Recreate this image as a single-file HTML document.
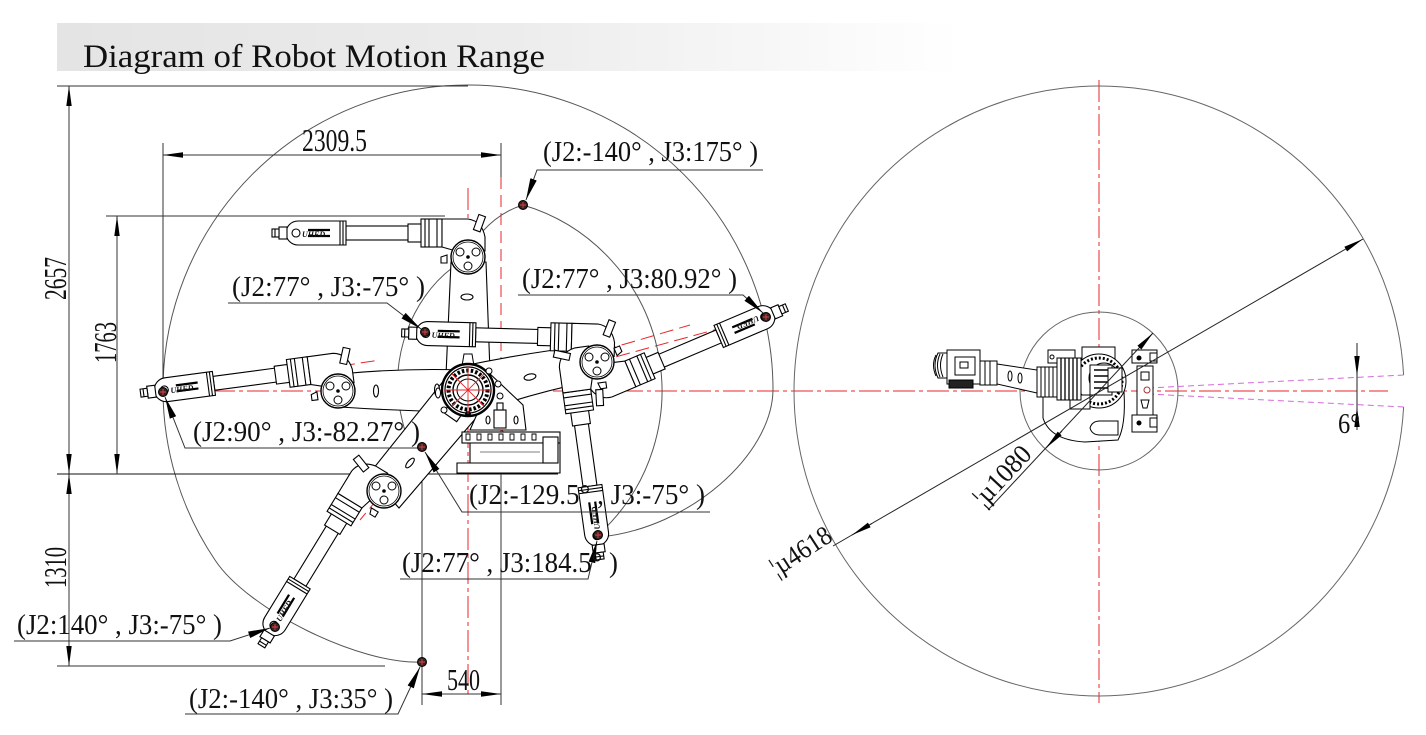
<!DOCTYPE html>
<html><head><meta charset="utf-8">
<style>
html,body{margin:0;padding:0;background:#fff;}
svg{display:block;}
text{font-family:"Liberation Serif",serif;fill:#111;}
</style></head>
<body>
<svg width="1426" height="735" viewBox="0 0 1426 735" xmlns="http://www.w3.org/2000/svg">
<defs>
<linearGradient id="tg" x1="0" x2="1" y1="0" y2="0">
 <stop offset="0" stop-color="#e4e4e4"/>
 <stop offset="0.5" stop-color="#ececec"/>
 <stop offset="1" stop-color="#ffffff"/>
</linearGradient>
<marker id="ah" viewBox="0 0 20 8" refX="20" refY="4" markerWidth="20" markerHeight="8" markerUnits="userSpaceOnUse" orient="auto-start-reverse">
 <path d="M0,1.3 L20,4 L0,6.7 z" fill="#000"/>
</marker>
<marker id="ld" viewBox="0 0 22 8" refX="22" refY="4" markerWidth="22" markerHeight="8" markerUnits="userSpaceOnUse" orient="auto">
 <path d="M0,0.6 L22,4 L0,7.4 z" fill="#000"/>
</marker>
<g id="dt"><circle r="4.5" fill="#3a2222" stroke="#000" stroke-width="1"/><path d="M-3,0H3M0,-3V3" stroke="#d44" stroke-width="0.9"/></g>
<g id="fa" fill="#fff" stroke="#000" stroke-width="1.1">
 <rect x="-122" y="-31" width="64" height="14"/>
 <rect x="-60" y="-33" width="14" height="18"/>
 <rect x="-47" y="-38" width="21" height="28"/>
 <line x1="-43" y1="-38" x2="-43" y2="-10"/>
 <line x1="-39" y1="-38" x2="-39" y2="-10"/>
 <line x1="-31" y1="-38" x2="-31" y2="-10"/>
 <path d="M-26,-38 L0,-38 Q14,-36 17,-20 L17,-6 L-12,-6 L-26,-10 Z"/>
 <rect x="8" y="-42" width="7" height="16" transform="rotate(20 11 -34)"/>
 <path d="M-27,0 l6,-2 l0,8 l-6,0 z"/>
 <path d="M-122,-36 L-170,-36 A12,12 0 0 0 -170,-12 L-122,-12 Z"/>
 <line x1="-128" y1="-36" x2="-128" y2="-12"/>
 <line x1="-125" y1="-36" x2="-125" y2="-12"/>
 <rect x="-189" y="-30" width="8" height="12"/>
 <rect x="-196" y="-28" width="7" height="8"/>
 <line x1="-193" y1="-28" x2="-193" y2="-20"/>
 <circle cx="-172" cy="-24" r="4"/>
 <path d="M-160,-27 h22 M-160,-21 h22" stroke-width="2.2"/>
</g>
<g id="el" stroke="#000" fill="#fff">
 <circle r="17" stroke-width="1.4"/>
 <circle r="15" stroke-width="0.8"/>
 <circle cx="-8" cy="-5" r="4" stroke-width="1"/>
 <circle cx="8" cy="-5" r="4" stroke-width="1"/>
 <circle cx="0" cy="9" r="4" stroke-width="1"/>
 <circle r="1.3" fill="#000"/>
</g>
</defs>

<!-- Title -->
<rect x="57" y="23" width="905" height="48" fill="url(#tg)"/>
<text x="83" y="67" font-size="33" textLength="462" lengthAdjust="spacingAndGlyphs" fill="#222">Diagram of Robot Motion Range</text>

<!-- Red center lines -->
<g stroke="#e8262b" stroke-width="1" fill="none">
 <line x1="145" y1="391" x2="1388" y2="391" stroke-dasharray="22 4 4 4"/>
 <line x1="468" y1="188" x2="468" y2="698" stroke-dasharray="22 4 4 4"/>
 <line x1="501" y1="177" x2="501" y2="474" stroke-dasharray="12 6"/>
 <line x1="1099" y1="80" x2="1099" y2="703" stroke-dasharray="22 4 4 4"/>
 <line x1="468" y1="390" x2="690" y2="325" stroke-dasharray="14 6"/>
 <line x1="468" y1="390" x2="360" y2="520" stroke-dasharray="14 6"/>
 <line x1="468" y1="390" x2="527" y2="460"/>
 <line x1="163" y1="393" x2="380" y2="360" stroke-dasharray="14 6"/>
 <line x1="597" y1="362" x2="780" y2="312" stroke-dasharray="14 6"/>
</g>

<!-- Envelope arcs (left view) -->
<g stroke="#555" stroke-width="1" fill="none">
 <path d="M163,390 A305,305 0 0 1 468,85 A305,305 0 0 1 773,390 C772,455 690,528 600,537"/>
 <path d="M163,390 A305,305 0 0 0 215,560 C248,610 360,665 422,662"/>
 <path d="M523,205 A194,194 0 0 1 598,535"/>
 <path d="M523,205 Q500,212 482,232"/>
 <path d="M452,268 C410,300 390,360 400,410 S415,440 422,447"/>
</g>

<!-- Dimension lines (left view) -->
<g stroke="#333" stroke-width="1" fill="none">
 <line x1="57" y1="86" x2="468" y2="86"/>
 <line x1="69" y1="86" x2="69" y2="474" marker-start="url(#ah)" marker-end="url(#ah)"/>
 <line x1="69" y1="474" x2="69" y2="666" marker-start="url(#ah)" marker-end="url(#ah)"/>
 <line x1="57" y1="474" x2="558" y2="474" stroke="#111"/>
 <line x1="57" y1="666" x2="385" y2="666"/>
 <line x1="106" y1="216" x2="445" y2="216"/>
 <line x1="117" y1="216" x2="117" y2="474" marker-start="url(#ah)" marker-end="url(#ah)"/>
 <line x1="163" y1="143" x2="163" y2="392"/>
 <line x1="501" y1="143" x2="501" y2="177"/>
 <line x1="163" y1="155" x2="501" y2="155" marker-start="url(#ah)" marker-end="url(#ah)"/>
 <line x1="422" y1="447" x2="422" y2="705"/>
 <line x1="501" y1="474" x2="501" y2="705"/>
 <line x1="422" y1="694" x2="501" y2="694" marker-start="url(#ah)" marker-end="url(#ah)"/>
</g>

<!-- Dimension texts -->
<text x="302" y="151" font-size="32" textLength="65" lengthAdjust="spacingAndGlyphs">2309.5</text>
<text transform="translate(66,300) rotate(-90)" font-size="32" textLength="43" lengthAdjust="spacingAndGlyphs">2657</text>
<text transform="translate(116,363) rotate(-90)" font-size="32" textLength="41" lengthAdjust="spacingAndGlyphs">1763</text>
<text transform="translate(66,588) rotate(-90)" font-size="32" textLength="41" lengthAdjust="spacingAndGlyphs">1310</text>
<text x="447" y="690" font-size="31" textLength="33" lengthAdjust="spacingAndGlyphs">540</text>

<!-- Robot: upper arms -->
<g fill="#fff" stroke="#000" stroke-width="1.1">
 <path d="M446,375 L451,262 L486,262 L490,372 Z"/>
 <path d="M463,366 Q530,352 594,345 L601,379 Q535,392 473,414 Z"/>
 <path d="M465,370 Q400,368 340,374 L340,407 Q400,411 462,412 Z"/>
 <path d="M449,374 L369,474 L399,508 L488,404 Z"/>
 <ellipse cx="467" cy="297" rx="6" ry="3"/>
 <ellipse cx="530" cy="377" rx="6" ry="3" transform="rotate(-12 530 377)"/>
 <ellipse cx="376" cy="391" rx="2.5" ry="6"/>
 <ellipse cx="437" cy="390" rx="2.5" ry="6"/>
 <ellipse cx="410" cy="463" rx="6" ry="2.5" transform="rotate(-50 410 463)"/>
</g>

<!-- Base pedestal -->
<g fill="#fff" stroke="#000" stroke-width="1.1">
 <path d="M478,412 L488,372 L523,405 L526,430 L470,430 Z"/>
 <rect x="494" y="410" width="12" height="18"/>
 <rect x="497" y="403" width="6" height="7"/>
 <ellipse cx="488" cy="420" rx="2" ry="4"/>
 <ellipse cx="516" cy="420" rx="2" ry="4"/>
 <rect x="462" y="432" width="98" height="11"/>
 <path d="M466,434 h4v6h-4z M477,434 h4v6h-4z M488,434 h4v6h-4z M499,434 h4v6h-4z M510,434 h4v6h-4z M521,434 h4v6h-4z M532,434 h4v6h-4z" stroke-width="0.9"/>
 <path d="M470,443 L560,443 L560,473 L457,473 L457,463 L470,463 Z"/>
 <rect x="543" y="437" width="15" height="26"/>
 <line x1="470" y1="463" x2="543" y2="463"/>
 <line x1="480" y1="452" x2="540" y2="452" stroke-width="0.6"/>
 <rect x="445" y="408" width="16" height="10" transform="rotate(35 453 413)"/>
</g>
<!-- J1 ring -->
<g fill="#fff" stroke="#000">
 <path d="M462,366 L464,354 L472,354 L474,366 Z" stroke-width="1"/>
 <circle cx="468" cy="390" r="26" stroke-width="2.4"/>
 <circle cx="468" cy="390" r="23" stroke-width="1.2"/>
 <circle cx="468" cy="390" r="19.5" stroke-width="4" stroke-dasharray="2.5 2" fill="none"/>
 <circle cx="468" cy="390" r="15" stroke-width="1.4"/>
 <circle cx="468" cy="390" r="11" stroke-width="1"/>
 <circle cx="489" cy="371" r="3" stroke-width="1"/>
 <circle cx="498" cy="384" r="3" stroke-width="1"/>
 <circle cx="500" cy="396" r="3" stroke-width="1"/>
 <circle cx="444" cy="410" r="3" stroke-width="1"/>
 <ellipse cx="438" cy="393" rx="2.5" ry="5" stroke-width="1"/>
 <circle cx="468" cy="414" r="2.5" fill="#000"/>
</g>
<g stroke="#e8262b" stroke-width="0.9" fill="none">
 <line x1="444" y1="390" x2="492" y2="390"/>
 <line x1="468" y1="366" x2="468" y2="414"/>
 <line x1="452" y1="374" x2="484" y2="406"/>
 <line x1="452" y1="406" x2="484" y2="374"/>
</g>

<!-- Forearms -->
<g transform="translate(468,257)"><use href="#fa"/><text x="-166" y="-20" font-size="8" font-weight="bold" font-style="italic">UHFD</text></g>
<g transform="translate(597,362) rotate(1.5)"><use href="#fa"/><text x="-166" y="-20" font-size="8" font-weight="bold" font-style="italic">UHFD</text></g>
<g transform="translate(597,362) rotate(157)"><use href="#fa"/><text x="-166" y="-20" font-size="8" font-weight="bold" font-style="italic">UHFD</text></g>
<g transform="translate(338,391) rotate(-7.6)"><use href="#fa"/><text x="-166" y="-20" font-size="8" font-weight="bold" font-style="italic">UHFD</text></g>
<g transform="translate(384,491) rotate(-58.6)"><use href="#fa"/><text x="-166" y="-20" font-size="8" font-weight="bold" font-style="italic">UHFD</text></g>
<g transform="translate(597,362) rotate(-97.9)"><use href="#fa"/><text x="-166" y="-20" font-size="8" font-weight="bold" font-style="italic">UHFD</text></g>

<!-- Elbows -->
<use href="#el" transform="translate(468,257)"/>
<use href="#el" transform="translate(597,362)"/>
<use href="#el" transform="translate(338,391)"/>
<use href="#el" transform="translate(384,491)"/>

<!-- Leaders -->
<g stroke="#333" stroke-width="1" fill="none">
 <path d="M763,170 L537,170 L526,200" marker-end="url(#ld)"/>
 <path d="M228,303 L387,303 L421,329" marker-end="url(#ld)"/>
 <path d="M518,295 L743,295 L763,313" marker-end="url(#ld)"/>
 <path d="M422,448 L185,448 L165,397" marker-end="url(#ld)"/>
 <path d="M710,512 L462,512 L425,452" marker-end="url(#ld)"/>
 <path d="M400,579 L588,579 L597,541" marker-end="url(#ld)"/>
 <path d="M14,641 L230,641 L270,628" marker-end="url(#ld)"/>
 <path d="M185,714 L398,714 L420,667" marker-end="url(#ld)"/>
</g>

<!-- Dots -->
<use href="#dt" transform="translate(523,205)"/>
<use href="#dt" transform="translate(425,332)"/>
<use href="#dt" transform="translate(766,317)"/>
<use href="#dt" transform="translate(163,392)"/>
<use href="#dt" transform="translate(422,447)"/>
<use href="#dt" transform="translate(598,535)"/>
<use href="#dt" transform="translate(275,627)"/>
<use href="#dt" transform="translate(422,662)"/>

<!-- Labels -->
<g font-size="29">
 <text x="543" y="161" textLength="215" lengthAdjust="spacingAndGlyphs">(J2:-140° , J3:175° )</text>
 <text x="232" y="296" textLength="193" lengthAdjust="spacingAndGlyphs">(J2:77° , J3:-75° )</text>
 <text x="522" y="288" textLength="215" lengthAdjust="spacingAndGlyphs">(J2:77° , J3:80.92° )</text>
 <text x="193" y="441" textLength="227" lengthAdjust="spacingAndGlyphs">(J2:90° , J3:-82.27° )</text>
 <text x="469" y="504" textLength="236" lengthAdjust="spacingAndGlyphs">(J2:-129.5° , J3:-75° )</text>
 <text x="402" y="572" textLength="216" lengthAdjust="spacingAndGlyphs">(J2:77° , J3:184.5° )</text>
 <text x="17" y="634" textLength="205" lengthAdjust="spacingAndGlyphs">(J2:140° , J3:-75° )</text>
 <text x="189" y="708" textLength="204" lengthAdjust="spacingAndGlyphs">(J2:-140° , J3:35° )</text>
</g>

<!-- ===== Right view ===== -->
<g stroke="#666" stroke-width="1" fill="none">
 <path d="M1403.6,407 A305,305 0 1 1 1403.6,375"/>
 <circle cx="1099" cy="391" r="79"/>
</g>
<g stroke="#d36ad8" stroke-width="1" stroke-dasharray="6 4" fill="none">
 <line x1="1148" y1="388" x2="1404" y2="375"/>
 <line x1="1148" y1="394" x2="1404" y2="407"/>
</g>

<!-- Right robot top view -->
<g fill="#fff" stroke="#000" stroke-width="1">
 <path d="M1043,392 L1043,418 Q1050,440 1085,442 L1118,440 Q1126,425 1124,392 Z"/>
 <path d="M1090,428 Q1092,421 1100,421 L1118,421 L1118,435 L1100,435 Q1092,435 1090,428 Z"/>
 <rect x="1048" y="350" width="27" height="13"/>
 <circle cx="1052" cy="357" r="2"/>
 <rect x="1082" y="347" width="33" height="20"/>
 <rect x="1132" y="350" width="25" height="13"/>
 <circle cx="1139" cy="358" r="2" fill="#000"/>
 <rect x="1150" y="353" width="7" height="8"/>
 <rect x="1137" y="366" width="16" height="49"/>
 <path d="M1141,372 h8 v8 h-8 z M1141,400 h8 l-2,8 h-4 z"/>
 <rect x="1132" y="415" width="25" height="17"/>
 <circle cx="1139" cy="423" r="2" fill="#000"/>
 <rect x="1150" y="418" width="7" height="9"/>
 <circle cx="1099" cy="381" r="27"/>
 <circle cx="1099" cy="381" r="23" stroke-width="3" stroke-dasharray="2 2" fill="none"/>
 <circle cx="1104" cy="378" r="15"/>
 <rect x="1090" y="365" width="22" height="30"/>
 <path d="M1094,370 h14 M1094,376 h14 M1094,382 h14 M1094,388 h14" stroke-width="1.4"/>
 <rect x="1108" y="368" width="14" height="24"/>
 <rect x="1070" y="395" width="20" height="14"/>
 <rect x="1057" y="358" width="24" height="42"/>
 <path d="M1061,358 v42 M1065,358 v42 M1069,358 v42 M1073,358 v42 M1077,358 v42" stroke-width="1.3"/>
 <rect x="1037" y="367" width="20" height="30"/>
 <path d="M1041,367 v30 M1045,367 v30 M1049,367 v30 M1053,367 v30"/>
 <polygon points="997,364 1037,370 1037,393 997,384"/>
 <rect x="980" y="361" width="17" height="24"/>
 <path d="M985,361 v24 M990,361 v24"/>
 <ellipse cx="1010" cy="376" rx="2" ry="5"/>
 <ellipse cx="1020" cy="378" rx="2" ry="5"/>
 <rect x="947" y="350" width="33" height="34"/>
 <rect x="955" y="357" width="20" height="18"/>
 <rect x="960" y="362" width="8" height="6"/>
 <path d="M947,353 L938,353 Q932,365 938,378 L947,378 Z"/>
 <path d="M936,355 Q931,365 936,376 M940,354 Q935,365 940,377 M943,354 Q938,365 943,377" fill="none"/>
 <rect x="949" y="380" width="24" height="8" fill="#222"/>
 <circle cx="1147" cy="390" r="3" stroke="#a33"/>
</g>

<!-- Right view dimensions -->
<g stroke="#222" stroke-width="1" fill="none">
 <line x1="833" y1="546" x2="1363" y2="239" marker-end="url(#ah)"/>
 <line x1="872" y1="523.4" x2="852" y2="535" marker-end="url(#ah)"/>
 <line x1="988" y1="510" x2="1153" y2="333" marker-end="url(#ah)"/>
 <line x1="1062" y1="431" x2="1046" y2="448" marker-end="url(#ah)"/>
 <line x1="1357" y1="343" x2="1357" y2="430"/>
 <line x1="1357" y1="350" x2="1357" y2="376" marker-end="url(#ah)"/>
 <line x1="1357" y1="430" x2="1357" y2="407" marker-end="url(#ah)"/>
</g>
<text x="1338" y="433" font-size="28" textLength="22" lengthAdjust="spacingAndGlyphs">6°</text>
<text transform="translate(984,508) rotate(-47)" font-size="27" textLength="72" lengthAdjust="spacingAndGlyphs">¦µ1080</text>
<text transform="translate(777,577) rotate(-33)" font-size="27" textLength="68" lengthAdjust="spacingAndGlyphs">¦µ4618</text>
</svg>
</body></html>
